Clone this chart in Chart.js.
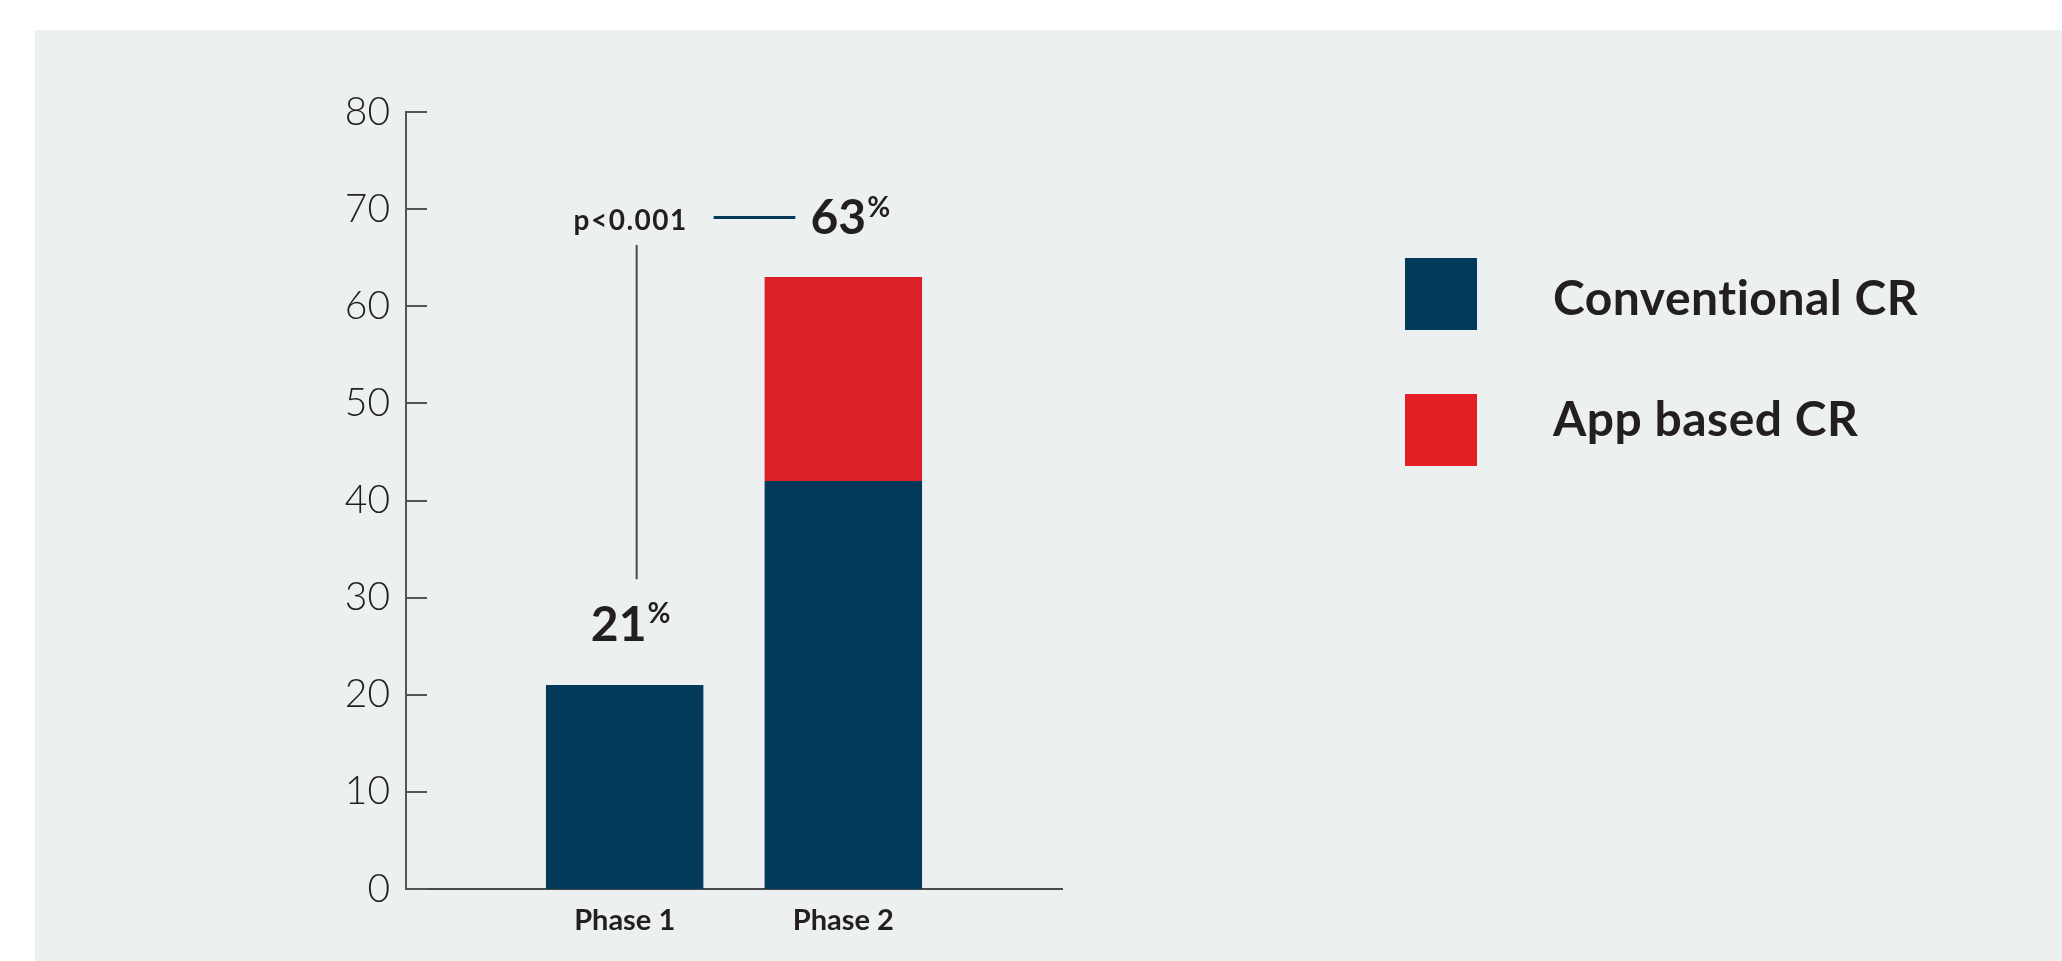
<!DOCTYPE html>
<html>
<head>
<meta charset="utf-8">
<script src="https://cdn.jsdelivr.net/npm/chart.js@4/dist/chart.umd.min.js"></script>
<style>
  body { margin: 0; background: #ffffff; }
  #panel { position: absolute; left: 35px; top: 30px; width: 2027px; height: 931px; background: #ecf0f1; }
</style>
</head>
<body>
<div id="panel"><canvas id="chart"></canvas></div>
<script>
// chart data
const categories = ['Phase 1', 'Phase 2'];
const conventional = [21, 42];
const appBased = [0, 21];
const seriesNames = ['Conventional CR', 'App based CR'];
const yTicks = [0, 10, 20, 30, 40, 50, 60, 70, 80];
const pValue = 'p<0.001';

const navy = '#033a59';
const red = '#da2128';
const ink = '#231f20';

// empty slots either side so the two bars sit at 1/3 and 2/3 of the axis
const xLabels = [''].concat(categories, ['']);
const pad = arr => [null].concat(arr, [null]);

// draws the little inward ticks, the p-value bracket, the totals and the legend
const extras = {
    id: 'extras',
    afterDraw(chart) {
        const ctx = chart.ctx;
        const x = chart.scales.x;
        const y = chart.scales.y;
        const area = chart.chartArea;
        ctx.save();

        // tick marks pointing into the plot
        ctx.strokeStyle = '#555555';
        ctx.lineWidth = 2;
        yTicks.forEach(v => {
            const py = Math.round(y.getPixelForValue(v));
            ctx.beginPath();
            ctx.moveTo(area.left, py);
            ctx.lineTo(area.left + 21, py);
            ctx.stroke();
        });

        const x1 = x.getPixelForValue(1);
        const x2 = x.getPixelForValue(2);

        // vertical bracket line
        ctx.strokeStyle = '#4a4a4a';
        ctx.lineWidth = 2;
        ctx.beginPath();
        ctx.moveTo(x1 + 12, y.getPixelForValue(66.3));
        ctx.lineTo(x1 + 12, y.getPixelForValue(31.9));
        ctx.stroke();

        // short navy connector
        ctx.strokeStyle = navy;
        ctx.lineWidth = 3;
        ctx.beginPath();
        ctx.moveTo(x1 + 89, y.getPixelForValue(69.15));
        ctx.lineTo(x2 - 48, y.getPixelForValue(69.15));
        ctx.stroke();

        ctx.fillStyle = ink;
        ctx.textBaseline = 'alphabetic';
        ctx.textAlign = 'center';
        ctx.letterSpacing = '1.5px';
        ctx.font = 'bold 28px Lato';
        ctx.fillText(pValue, x1 + 6, y.getPixelForValue(67.9));
        ctx.letterSpacing = '0px';

        // totals with a raised percent sign
        const totalLabel = (i, cx, base, pctBase) => {
            const total = String(conventional[i] + appBased[i]);
            ctx.font = 'bold 48px Lato';
            const w = ctx.measureText(total).width;
            ctx.font = 'bold 28px Lato';
            const wp = ctx.measureText('%').width;
            const left = cx - (w + wp + 1) / 2;
            ctx.textAlign = 'left';
            ctx.font = 'bold 48px Lato';
            ctx.fillText(total, left, y.getPixelForValue(base));
            ctx.font = 'bold 28px Lato';
            ctx.fillText('%', left + w + 1, y.getPixelForValue(pctBase));
        };
        totalLabel(0, x1 + 6, 25.5, 27.35);
        totalLabel(1, x2 + 7, 67.4, 69.2);

        // legend
        const lx = area.right + 343;
        const colors = [navy, '#e31e25'];
        const textBase = [285, 406];
        ctx.font = 'bold 48px Lato';
        ctx.letterSpacing = '0.5px';
        ctx.textAlign = 'left';
        seriesNames.forEach((name, i) => {
            const top = 228 + i * 136;
            ctx.fillStyle = colors[i];
            ctx.fillRect(lx, top, 72, 72);
            ctx.fillStyle = ink;
            ctx.fillText(name, lx + 148, textBase[i]);
        });

        ctx.restore();
    }
};

new Chart(document.getElementById('chart'), {
    type: 'bar',
    data: {
        labels: xLabels,
        datasets: [
            { label: seriesNames[0], data: pad(conventional), backgroundColor: navy },
            { label: seriesNames[1], data: pad(appBased), backgroundColor: red }
        ]
    },
    options: {
        responsive: true,
        maintainAspectRatio: false,
        animation: false,
        layout: { padding: { top: 82, right: 1000, left: 0, bottom: 0 } },
        plugins: {
            legend: { display: false },
            tooltip: { enabled: false }
        },
        datasets: {
            bar: { barPercentage: 1, categoryPercentage: 0.72 }
        },
        scales: {
            x: {
                stacked: true,
                offset: false,
                grid: { display: false, drawTicks: false },
                border: { display: true, color: '#4a4a4a', width: 2 },
                ticks: {
                    padding: 14,
                    autoSkip: false,
                    maxRotation: 0,
                    color: ink,
                    font: { family: 'Lato', size: 29, weight: 'bold' }
                },
                afterFit(scale) { scale.height = 72; }
            },
            y: {
                stacked: true,
                min: 0,
                max: 80,
                grid: { display: false, drawTicks: false },
                border: { display: true, color: '#555555', width: 2 },
                afterBuildTicks(scale) { scale.ticks = yTicks.map(v => ({ value: v })); },
                ticks: {
                    padding: 16,
                    color: ink,
                    font: { family: 'Lato', size: 39, weight: '300' }
                },
                afterFit(scale) { scale.width = 371; }
            }
        }
    },
    plugins: [extras]
});
</script>
</body>
</html>
